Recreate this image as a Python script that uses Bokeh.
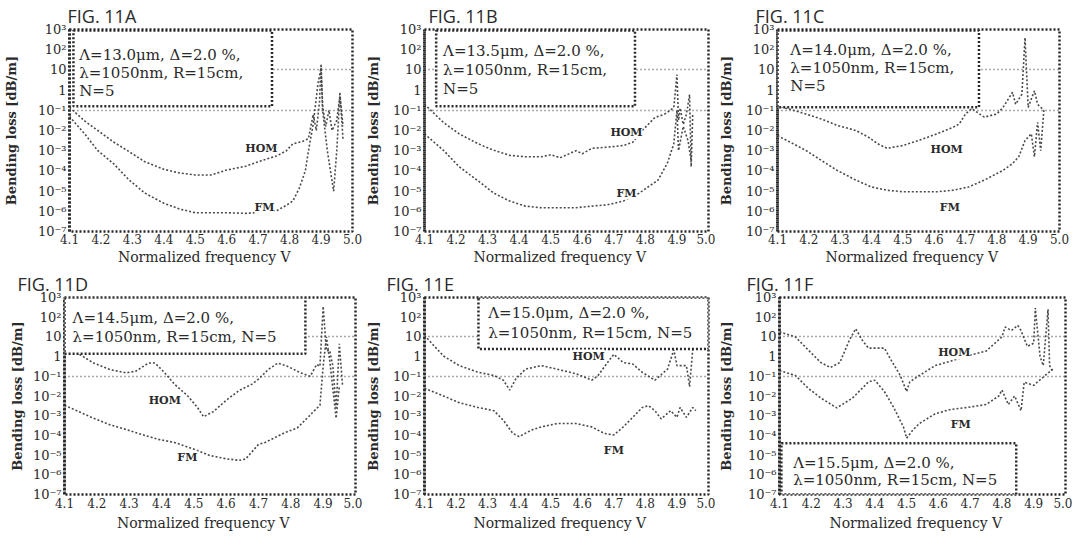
from bokeh.plotting import figure
from bokeh.models import (Range1d, FixedTicker, CustomJSTickFormatter,
                          NumeralTickFormatter, BoxAnnotation, Label)
from bokeh.layouts import row, column
from bokeh.embed import file_html
from bokeh.resources import INLINE

# ---------------- axis ticks ----------------
x_ticks = [4.1, 4.2, 4.3, 4.4, 4.5, 4.6, 4.7, 4.8, 4.9, 5.0]
y_ticks = [1e-7, 1e-6, 1e-5, 1e-4, 1e-3, 1e-2, 1e-1, 1.0, 10.0, 100.0, 1000.0]
y_exponents = [-7, -6, -5, -4, -3, -2, -1, 0, 1, 2, 3]
y_tick_labels = ["10⁻⁷", "10⁻⁶", "10⁻⁵", "10⁻⁴", "10⁻³", "10⁻²", "10⁻¹",
                 "1", "10", "10²", "10³"]
grid_levels = [0.1, 10.0]

# ---------------- FIG. 11A ----------------
a_hom_v = [4.10, 4.15, 4.19, 4.24, 4.29, 4.34, 4.40, 4.45, 4.50, 4.55, 4.60, 4.66,
           4.71, 4.76, 4.79, 4.81, 4.84, 4.86, 4.875, 4.885, 4.895, 4.90, 4.905,
           4.915, 4.925, 4.935, 4.95, 4.96, 4.97]
a_hom = [1.4e-1, 2.8e-2, 1.0e-2, 2.7e-3, 8.9e-4, 2.8e-4, 1.2e-4, 7.9e-5, 6.3e-5,
         6.3e-5, 1.1e-4, 1.7e-4, 3.2e-4, 5.6e-4, 1.0e-3, 2.2e-3, 2.8e-3, 4.0e-3,
         6.3e-2, 1.0e-2, 2.5e-1, 2.0e1, 1.6e-1, 1.6e-2, 1.0e-1, 1.0e-2, 3.2e-2,
         5.0e-1, 1.6e-2]
a_fm_v = [4.10, 4.15, 4.19, 4.24, 4.29, 4.34, 4.40, 4.45, 4.50, 4.55, 4.60, 4.66,
          4.71, 4.76, 4.79, 4.81, 4.83, 4.85, 4.86, 4.875, 4.89, 4.90, 4.905, 4.92,
          4.94, 4.95, 4.96, 4.97]
a_fm = [5.0e-2, 6.3e-3, 1.0e-3, 2.3e-4, 3.5e-5, 7.9e-6, 2.5e-6, 1.3e-6, 8.5e-7,
        8.5e-7, 8.5e-7, 7.9e-7, 8.9e-7, 1.1e-6, 2.0e-6, 3.2e-6, 1.3e-5, 1.0e-4,
        1.0e-3, 2.0e-2, 2.0, 1.3e1, 1.0e-1, 1.0e-3, 1.0e-5, 1.0e-3, 7.9e-1, 3.2e-3]

# ---------------- FIG. 11B ----------------
b_hom_v = [4.10, 4.16, 4.21, 4.27, 4.32, 4.37, 4.42, 4.47, 4.50, 4.53, 4.58, 4.60,
           4.63, 4.68, 4.73, 4.76, 4.79, 4.83, 4.86, 4.89, 4.90, 4.905, 4.91, 4.92,
           4.93, 4.94, 4.945, 4.95]
b_hom = [2.0e-1, 2.5e-2, 6.8e-3, 2.2e-3, 1.05e-3, 5.9e-4, 5.0e-4, 5.0e-4, 6.3e-4,
         4.5e-4, 1.0e-3, 7.1e-4, 1.3e-3, 1.5e-3, 1.8e-3, 2.6e-3, 1.0e-2, 4.4e-2,
         6.3e-2, 1.35e-1, 5.8, 3.2e-2, 1.3e-1, 2.0e-2, 6.3e-2, 6.0e-1, 1.6e-4, 6.3e-2]
b_fm_v = [4.10, 4.16, 4.21, 4.27, 4.32, 4.37, 4.42, 4.47, 4.53, 4.58, 4.63, 4.68,
          4.73, 4.78, 4.84, 4.87, 4.89, 4.90, 4.905, 4.92, 4.935, 4.945]
b_fm = [6.8e-3, 1.05e-3, 1.6e-4, 3.2e-5, 7.9e-6, 3.2e-6, 1.8e-6, 1.5e-6, 1.5e-6,
        1.5e-6, 1.8e-6, 2.1e-6, 3.2e-6, 7.9e-6, 3.5e-5, 2.5e-4, 2.2e-3, 1.0e-1,
        1.0e-3, 1.6e-2, 3.2e-3, 3.2e-4]

# ---------------- FIG. 11C ----------------
c_hom_v = [4.10, 4.19, 4.24, 4.29, 4.35, 4.39, 4.42, 4.45, 4.47, 4.50, 4.55, 4.61,
           4.66, 4.68, 4.70, 4.72, 4.76, 4.80, 4.82, 4.85, 4.86, 4.88, 4.89, 4.90,
           4.92, 4.93, 4.95]
c_hom = [1.7e-1, 6.6e-2, 3.7e-2, 1.8e-2, 1.0e-2, 4.7e-3, 2.2e-3, 1.3e-3, 1.5e-3,
         1.8e-3, 3.2e-3, 6.9e-3, 1.45e-2, 2.1e-2, 6.6e-2, 1.2e-1, 4.6e-2, 6.6e-2,
         1.4e-1, 7.8e-1, 2.0e-1, 6.3e-1, 3.9e2, 1.4e-1, 9.3e-1, 2.0e-1, 1.0e-1]
c_fm_v = [4.10, 4.19, 4.24, 4.29, 4.35, 4.40, 4.45, 4.50, 4.55, 4.61, 4.66, 4.71,
          4.76, 4.82, 4.85, 4.87, 4.89, 4.91, 4.92, 4.93, 4.94, 4.95]
c_fm = [5.6e-3, 1.05e-3, 3.3e-4, 1.07e-4, 3.5e-5, 1.6e-5, 1.1e-5, 9.3e-6, 9.3e-6,
        9.3e-6, 1.1e-5, 1.6e-5, 3.5e-5, 1.07e-4, 2.3e-4, 5.0e-4, 3.2e-3, 6.9e-3,
        5.0e-4, 2.5e-2, 1.0e-3, 1.0e-1]

# ---------------- FIG. 11D ----------------
d_hom_v = [4.10, 4.15, 4.19, 4.24, 4.29, 4.32, 4.36, 4.38, 4.41, 4.44, 4.48, 4.51,
           4.53, 4.56, 4.60, 4.64, 4.68, 4.70, 4.73, 4.76, 4.79, 4.83, 4.86, 4.88,
           4.89, 4.90, 4.91, 4.92, 4.93, 4.94, 4.95, 4.96]
d_hom = [2.5, 1.2, 4.7e-1, 2.2e-1, 1.5e-1, 1.8e-1, 4.7e-1, 4.7e-1, 1.5e-1, 4.0e-2,
         1.05e-2, 2.8e-3, 8.9e-4, 1.6e-3, 6.0e-3, 1.9e-2, 4.0e-2, 7.1e-2, 2.2e-1,
         4.7e-1, 3.2e-1, 1.5e-1, 1.0e-1, 4.0e-1, 3.2e-1, 3.5e2, 2.0, 2.1, 3.2e-1,
         2.5e-3, 4.5, 3.2e-2]
d_fm_v = [4.10, 4.19, 4.24, 4.29, 4.34, 4.39, 4.44, 4.50, 4.55, 4.60, 4.64, 4.66,
          4.70, 4.72, 4.75, 4.78, 4.82, 4.85, 4.87, 4.89, 4.90, 4.91, 4.92, 4.94,
          4.95]
d_fm = [3.4e-3, 7.4e-4, 3.5e-4, 2.0e-4, 1.1e-4, 6.3e-5, 4.4e-5, 2.0e-5, 9.5e-6,
        6.5e-6, 5.4e-6, 6.3e-6, 3.5e-5, 4.4e-5, 7.6e-5, 1.35e-4, 2.4e-4, 7.4e-4,
        1.6e-3, 3.4e-3, 3.2e-1, 1.0e1, 6.9e-1, 7.4e-4, 3.2e-2]

# ---------------- FIG. 11E ----------------
e_hom_v = [4.10, 4.16, 4.21, 4.27, 4.32, 4.35, 4.37, 4.39, 4.42, 4.47, 4.52, 4.58,
           4.63, 4.65, 4.68, 4.70, 4.73, 4.76, 4.79, 4.83, 4.87, 4.89, 4.90, 4.93,
           4.94, 4.95]
e_hom = [1.2e1, 1.07, 3.5e-1, 1.6e-1, 1.1e-1, 6.3e-2, 2.0e-2, 7.6e-2, 2.3e-1,
         3.5e-1, 2.3e-1, 1.35e-1, 6.3e-2, 1.1e-1, 5.0e-1, 1.3, 5.0e-1, 4.2e-1,
         1.6e-1, 6.3e-2, 2.3e-1, 2.2, 3.5e-1, 3.5e-1, 3.0e-2, 2.2]
e_fm_v = [4.10, 4.16, 4.21, 4.27, 4.32, 4.35, 4.38, 4.40, 4.44, 4.47, 4.52, 4.58,
          4.63, 4.67, 4.70, 4.73, 4.76, 4.79, 4.81, 4.83, 4.85, 4.88, 4.90, 4.91,
          4.93, 4.95, 4.96]
e_fm = [2.5e-2, 1.0e-2, 4.6e-3, 2.6e-3, 1.8e-3, 5.8e-4, 1.26e-4, 8.7e-5, 1.9e-4,
        2.7e-4, 4.0e-4, 4.0e-4, 2.7e-4, 1.26e-4, 1.05e-4, 2.7e-4, 8.3e-4, 2.6e-3,
        3.2e-3, 1.8e-3, 6.9e-4, 1.8e-3, 8.3e-4, 2.6e-3, 8.3e-4, 2.6e-3, 1.8e-3]

# ---------------- FIG. 11F ----------------
f_hom_v = [4.10, 4.15, 4.19, 4.23, 4.26, 4.29, 4.32, 4.34, 4.36, 4.38, 4.43, 4.45,
           4.48, 4.50, 4.51, 4.54, 4.59, 4.64, 4.69, 4.75, 4.80, 4.81, 4.83, 4.85,
           4.86, 4.88, 4.90, 4.905, 4.92, 4.93, 4.945, 4.95, 4.96]
f_hom = [1.8e1, 1.0e1, 2.2, 5.0e-1, 2.8e-1, 5.0e-1, 6.9, 2.6e1, 6.9, 2.7, 2.7,
         7.2e-1, 1.1e-1, 1.7e-2, 5.2e-2, 1.1e-1, 3.5e-1, 6.0e-1, 1.07, 1.9, 1.0e1,
         3.2e1, 2.1e1, 3.8e1, 2.1e1, 3.3, 4.8, 2.9e2, 1.0, 3.5e-1, 2.5e2, 3.5e-1,
         1.6e-1]
f_fm_v = [4.10, 4.15, 4.19, 4.23, 4.28, 4.33, 4.38, 4.40, 4.43, 4.46, 4.49, 4.50,
          4.52, 4.54, 4.59, 4.64, 4.69, 4.75, 4.79, 4.80, 4.82, 4.84, 4.86, 4.87,
          4.90, 4.935, 4.96]
f_fm = [1.95e-1, 1.1e-1, 2.5e-2, 7.9e-3, 2.5e-3, 7.9e-3, 5.2e-2, 6.3e-2, 1.7e-2,
        2.5e-3, 2.7e-4, 7.2e-5, 1.9e-4, 4.0e-4, 1.26e-3, 2.1e-3, 2.6e-3, 3.7e-3,
        1.0e-2, 2.0e-2, 3.7e-3, 1.0e-2, 1.8e-3, 5.0e-2, 3.5e-2, 1.07e-1, 2.3e-1]

# ---------------- panel layout / annotation settings ----------------
TOP_ROW = dict(h=268, bt=26, bb=37, xls=2, xas=2)
BOT_ROW = dict(h=266, bt=23, bb=40, xls=3, xas=4)

panels = [
    dict(TOP_ROW, title="FIG. 11A", toff=-2, w=362, bl=64, br=10, ylab_so=16,
         hv=a_hom_v, hy=a_hom, fv=a_fm_v, fy=a_fm,
         box=(4.1125, 4.744, 10 ** -0.8, 10 ** 2.95),
         lines=["Λ=13.0μm, Δ=2.0 %,", "λ=1050nm, R=15cm,", "N=5"],
         tx=4.131, ty=[1.75, 0.85, -0.05],
         hom=(4.71, 10 ** -2.9), fm=(4.72, 10 ** -5.8)),
    dict(TOP_ROW, title="FIG. 11B", toff=4, w=353, bl=56, br=7, ylab_so=9,
         hv=b_hom_v, hy=b_hom, fv=b_fm_v, fy=b_fm,
         box=(4.137, 4.767, 10 ** -0.8, 10 ** 2.95),
         lines=["Λ=13.5μm, Δ=2.0 %,", "λ=1050nm, R=15cm,", "N=5"],
         tx=4.159, ty=[1.95, 1.0, 0.05],
         hom=(4.74, 10 ** -2.1), fm=(4.74, 10 ** -5.1)),
    dict(TOP_ROW, title="FIG. 11C", toff=-22, w=357, bl=57, br=13, ylab_so=9,
         hv=c_hom_v, hy=c_hom, fv=c_fm_v, fy=c_fm,
         box=(4.1, 4.743, 10 ** -0.85, 10 ** 2.95),
         lines=["Λ=14.0μm, Δ=2.0 %,", "λ=1050nm, R=15cm,", "N=5"],
         tx=4.141, ty=[1.98, 1.1, 0.2],
         hom=(4.64, 10 ** -2.93), fm=(4.65, 10 ** -5.8)),
    dict(BOT_ROW, title="FIG. 11D", toff=-47, w=362, bl=64, br=7, ylab_so=5,
         hv=d_hom_v, hy=d_hom, fv=d_fm_v, fy=d_fm,
         box=(4.1, 4.845, 10 ** 0.14, 10 ** 3.0),
         lines=["Λ=14.5μm, Δ=2.0 %,", "λ=1050nm, R=15cm, N=5"],
         tx=4.125, ty=[1.97, 0.98],
         hom=(4.41, 10 ** -2.22), fm=(4.48, 10 ** -5.1)),
    dict(BOT_ROW, title="FIG. 11E", toff=-38, w=353, bl=56, br=7, ylab_so=9,
         hv=e_hom_v, hy=e_hom, fv=e_fm_v, fy=e_fm,
         box=(4.271, 5.0, 10 ** 0.39, 10 ** 3.0),
         lines=["Λ=15.0μm, Δ=2.0 %,", "λ=1050nm, R=15cm, N=5"],
         tx=4.302, ty=[2.2, 1.2],
         hom=(4.62, 10 ** 0.03), fm=(4.70, 10 ** -4.75)),
    dict(BOT_ROW, title="FIG. 11F", toff=-33, w=357, bl=60, br=7, ylab_so=11,
         hv=f_hom_v, hy=f_hom, fv=f_fm_v, fy=f_fm,
         box=(4.106, 4.845, 10 ** -7.0, 10 ** -4.4),
         lines=["Λ=15.5μm, Δ=2.0 %,", "λ=1050nm, R=15cm, N=5"],
         tx=4.143, ty=[-5.38, -6.26],
         hom=(4.65, 10 ** 0.2), fm=(4.67, 10 ** -3.45)),
]

INK = "#2a2a2a"
CURVE = "#4a4a4a"
SERIF = "DejaVu Serif"

y_formatter_code = """
const e = Math.round(Math.log10(tick));
const i = exps.indexOf(e);
return i >= 0 ? labels[i] : '';
"""


def make_panel(c):
    p = figure(width=c["w"], height=c["h"], x_range=Range1d(4.1, 5.0),
               y_range=Range1d(1e-7, 1e3), y_axis_type="log",
               output_backend="svg", toolbar_location=None,
               min_border_left=c["bl"], min_border_right=c["br"],
               min_border_top=c["bt"], min_border_bottom=c["bb"])
    p.background_fill_color = "white"
    p.border_fill_color = "white"
    p.outline_line_color = INK
    p.outline_line_width = 2.5
    p.outline_line_dash = "2 2"

    p.title.text = c["title"]
    p.title.align = "left"
    p.title.offset = c["toff"]
    p.title.standoff = 3
    p.title.text_font = "Open Sans"
    p.title.text_font_size = "18px"
    p.title.text_font_style = "normal"
    p.title.text_color = INK

    # grids: only dotted lines at 10 and 0.1
    p.xgrid.visible = False
    p.ygrid.ticker = FixedTicker(ticks=grid_levels)
    p.ygrid.grid_line_color = "#555555"
    p.ygrid.grid_line_dash = "1 3"
    p.ygrid.grid_line_width = 1.5

    # x axis
    xa = p.xaxis[0]
    xa.ticker = FixedTicker(ticks=x_ticks)
    xa.formatter = NumeralTickFormatter(format="0.0")
    xa.axis_label = "Normalized frequency    V"
    xa.axis_label_text_font = SERIF
    xa.axis_label_text_font_size = "14px"
    xa.axis_label_text_font_style = "normal"
    xa.axis_label_text_color = INK
    xa.axis_label_standoff = c["xas"]
    xa.major_label_text_font = SERIF
    xa.major_label_text_font_size = "12px"
    xa.major_label_text_color = INK
    xa.major_label_standoff = c["xls"]
    xa.axis_line_color = None
    xa.major_tick_line_color = None
    xa.minor_tick_line_color = None
    xa.major_tick_out = 0
    xa.major_tick_in = 0

    # y axis
    ya = p.yaxis[0]
    ya.ticker = FixedTicker(ticks=y_ticks)
    ya.formatter = CustomJSTickFormatter(
        args=dict(exps=y_exponents, labels=y_tick_labels), code=y_formatter_code)
    ya.axis_label = "Bending loss [dB/m]"
    ya.axis_label_text_font = SERIF
    ya.axis_label_text_font_size = "13px"
    ya.axis_label_text_font_style = "bold"
    ya.axis_label_text_color = INK
    ya.axis_label_standoff = c["ylab_so"]
    ya.major_label_text_font = SERIF
    ya.major_label_text_font_size = "13px"
    ya.major_label_text_color = INK
    ya.major_label_standoff = 3
    ya.axis_line_color = INK
    ya.axis_line_width = 3
    ya.axis_line_dash = "2 2"
    ya.major_tick_line_color = None
    ya.minor_tick_line_color = None
    ya.major_tick_out = 0
    ya.major_tick_in = 0

    # curves
    p.line(c["hv"], c["hy"], line_color=CURVE, line_width=1.6, line_dash="2 2")
    p.line(c["fv"], c["fy"], line_color=CURVE, line_width=1.6, line_dash="2 2")

    # parameter box
    l, r, b, t = c["box"]
    p.add_layout(BoxAnnotation(left=l, right=r, bottom=b, top=t,
                               fill_color="white", fill_alpha=1.0,
                               line_color=INK, line_alpha=1.0, line_width=2.5,
                               line_dash="2 2"))
    for txt, yy in zip(c["lines"], c["ty"]):
        p.add_layout(Label(x=c["tx"], y=10 ** yy, text=txt, text_font=SERIF,
                           text_font_size="15px", text_color=INK,
                           text_baseline="middle", text_align="left"))

    # curve labels
    for name, (lx, ly) in (("HOM", c["hom"]), ("FM", c["fm"])):
        p.add_layout(Label(x=lx, y=ly, text=name, text_font=SERIF,
                           text_font_size="11px", text_font_style="bold",
                           text_color=INK, text_align="center",
                           text_baseline="middle",
                           background_fill_color="white", background_fill_alpha=1.0))
    return p


figs = [make_panel(c) for c in panels]
layout = column(row(*figs[:3]), row(*figs[3:]))

open("out.html", "w").write(file_html(layout, INLINE))
